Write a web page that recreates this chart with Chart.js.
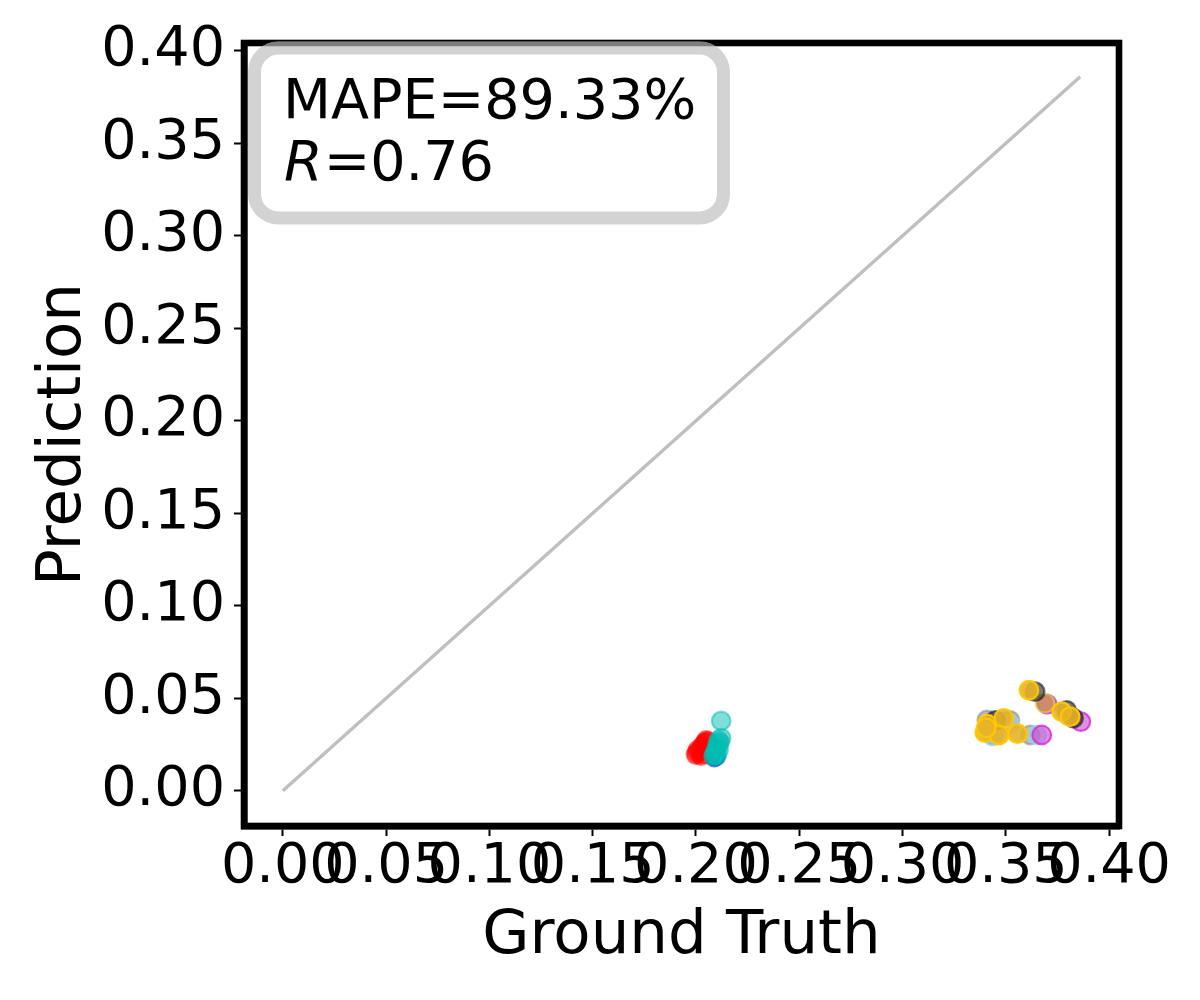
<!DOCTYPE html>
<html>
<head>
<meta charset="utf-8">
<script src="https://cdn.jsdelivr.net/npm/chart.js@4/dist/chart.umd.min.js"></script>
<style>
html,body{margin:0;padding:0;background:#fff;}
canvas{display:block;}
</style>
</head>
<body>
<canvas id="c" width="1200" height="1000"></canvas>
<script>
// ---- data ----
const xTicks = [0, 0.05, 0.10, 0.15, 0.20, 0.25, 0.30, 0.35, 0.40];
const yTicks = [0, 0.05, 0.10, 0.15, 0.20, 0.25, 0.30, 0.35, 0.40];
const diagX = [0, 0.386];
const diagY = [0, 0.386];

const redX = [0.2000, 0.2005, 0.2010, 0.2020, 0.2030, 0.2040, 0.2045, 0.2055, 0.2050, 0.2035, 0.2060, 0.2025, 0.2050];
const redY = [0.0195, 0.0205, 0.0220, 0.0215, 0.0240, 0.0250, 0.0260, 0.0265, 0.0230, 0.0200, 0.0220, 0.0190, 0.0272];

const cyanX = [0.2122, 0.2122, 0.2110, 0.2105, 0.2100, 0.2095, 0.2090, 0.2085, 0.2100, 0.2110, 0.2115];
const cyanY = [0.0377, 0.0284, 0.0270, 0.0250, 0.0230, 0.0210, 0.0195, 0.0185, 0.0190, 0.0220, 0.0260];

const blueX = [0.2088, 0.2095];
const blueY = [0.0182, 0.0186];

const goldX = [0.3410, 0.3490, 0.3398, 0.3468, 0.3557, 0.3405, 0.3612, 0.3771, 0.3811];
const goldY = [0.0360, 0.0391, 0.0315, 0.0301, 0.0308, 0.0340, 0.0543, 0.0427, 0.0400];

const blackX = [0.3642, 0.3795, 0.3828, 0.3450];
const blackY = [0.0535, 0.0434, 0.0392, 0.0380];

const tanX = [0.3690];
const tanY = [0.0473];

const magentaX = [0.3863, 0.3674, 0.3700];
const magentaY = [0.0373, 0.0301, 0.0468];

const greyX = [0.3408, 0.3618, 0.3440, 0.3520];
const greyY = [0.0382, 0.0301, 0.0300, 0.0380];

const lightblueX = [0.3650, 0.3520, 0.3435, 0.3800];
const lightblueY = [0.0301, 0.0360, 0.0295, 0.0405];

const mapeText = 'MAPE=89.33%';
const rLabel = 'R';
const rValue = '=0.76';

function pts(xs, ys){ return xs.map((x,i)=>({x:x, y:ys[i]})); }

function scatterSet(xs, ys, fill, stroke, order){
  return {type:'scatter', data:pts(xs,ys), backgroundColor:fill, borderColor:stroke,
    pointRadius:9.3, borderWidth:2.2, order:order, pointHoverRadius:9.3};
}

const FONT = "'DejaVu Sans', sans-serif";

const framePlugin = {
  id:'frame',
  afterDraw(chart){
    const ctx = chart.ctx;
    const a = chart.chartArea;
    ctx.save();
    // spines
    ctx.strokeStyle = '#000';
    ctx.lineWidth = 6.6;
    ctx.strokeRect(a.left, a.top, a.right - a.left, a.bottom - a.top);
    // annotation box
    const bx = 254.5, by = 48, bw = 469, bh = 170, r = 24;
    const path = () => {
      ctx.beginPath();
      ctx.moveTo(bx + r, by);
      ctx.lineTo(bx + bw - r, by);
      ctx.arcTo(bx + bw, by, bx + bw, by + r, r);
      ctx.lineTo(bx + bw, by + bh - r);
      ctx.arcTo(bx + bw, by + bh, bx + bw - r, by + bh, r);
      ctx.lineTo(bx + r, by + bh);
      ctx.arcTo(bx, by + bh, bx, by + bh - r, r);
      ctx.lineTo(bx, by + r);
      ctx.arcTo(bx, by, bx + r, by, r);
      ctx.closePath();
    };
    path();
    ctx.fillStyle = '#fff';
    ctx.fill();
    ctx.lineWidth = 13;
    ctx.strokeStyle = '#d3d3d3';
    ctx.stroke();
    // box overlapping the top spine looks darker (translucent box)
    ctx.save();
    ctx.beginPath();
    ctx.rect(a.left, a.top - 3.3, a.right - a.left, 6.6);
    ctx.clip();
    path();
    ctx.strokeStyle = 'rgba(0,0,0,0.4)';
    ctx.stroke();
    ctx.restore();
    // text
    ctx.fillStyle = '#000';
    ctx.textBaseline = 'alphabetic';
    ctx.textAlign = 'left';
    ctx.font = '55.6px ' + FONT;
    ctx.fillText(mapeText, 283, 117.5);
    ctx.font = 'italic 55.6px ' + FONT;
    ctx.fillText(rLabel, 284, 180);
    const rw = ctx.measureText(rLabel).width;
    ctx.font = '55.6px ' + FONT;
    ctx.fillText(rValue, 284 + rw + 1, 180);
    ctx.restore();
  }
};

new Chart(document.getElementById('c'), {
  data:{
    datasets:[
      {type:'line', data:pts(diagX, diagY), borderColor:'rgba(128,128,128,0.5)', borderWidth:3.4,
       pointRadius:0, fill:false, order:20},
      scatterSet(goldX, goldY, 'rgba(232,178,38,0.9)', 'rgba(255,200,0,0.95)', 1),
      scatterSet(blackX, blackY, 'rgba(30,30,30,0.6)', 'rgba(30,30,30,0.6)', 2),
      scatterSet(tanX, tanY, 'rgba(200,140,80,0.8)', 'rgba(210,210,60,0.7)', 3),
      scatterSet(magentaX, magentaY, 'rgba(205,70,205,0.6)', 'rgba(215,40,215,0.8)', 4),
      scatterSet(lightblueX, lightblueY, 'rgba(150,205,225,0.6)', 'rgba(150,215,235,0.7)', 5),
      scatterSet(greyX, greyY, 'rgba(140,140,140,0.6)', 'rgba(140,140,140,0.6)', 6),
      scatterSet(cyanX, cyanY, 'rgba(0,190,180,0.5)', 'rgba(0,190,180,0.5)', 7),
      scatterSet(redX, redY, 'rgba(255,0,0,0.5)', 'rgba(255,0,0,0.5)', 8),
      scatterSet(blueX, blueY, 'rgba(0,0,220,0.5)', 'rgba(0,0,220,0.5)', 9)
    ]
  },
  options:{
    responsive:false,
    devicePixelRatio:1,
    animation:false,
    events:[],
    layout:{padding:{top:43, right:81, left:0, bottom:0}},
    plugins:{legend:{display:false}, tooltip:{enabled:false}},
    scales:{
      x:{
        type:'linear', position:'bottom', min:-0.0188, max:0.4048,
        afterBuildTicks(s){ s.ticks = xTicks.map(v=>({value:v})); },
        afterFit(s){ s.height = 174; },
        border:{display:true, color:'#000', width:6.6},
        grid:{drawOnChartArea:false, drawTicks:true, tickLength:10, tickWidth:2, tickColor:'#000'},
        ticks:{autoSkip:false, maxRotation:0, minRotation:0, padding:4, color:'#000',
          font:{family:FONT, size:55.6, lineHeight:1.0},
          callback:(v)=>Number(v).toFixed(2)},
        title:{display:true, text:'Ground Truth', color:'#000', font:{family:FONT, size:61}, padding:{top:0, bottom:26}}
      },
      y:{
        type:'linear', position:'left', min:-0.0191, max:0.4042,
        afterBuildTicks(s){ s.ticks = yTicks.map(v=>({value:v})); },
        afterFit(s){ s.width = 244; },
        border:{display:true, color:'#000', width:6.6},
        grid:{drawOnChartArea:false, drawTicks:true, tickLength:10, tickWidth:2, tickColor:'#000'},
        ticks:{autoSkip:false, padding:9, color:'#000',
          font:{family:FONT, size:55.6},
          callback:(v)=>Number(v).toFixed(2)},
        title:{display:true, text:'Prediction', color:'#000', font:{family:FONT, size:61}, padding:{top:28, bottom:0}}
      }
    }
  },
  plugins:[framePlugin]
});
</script>
</body>
</html>
